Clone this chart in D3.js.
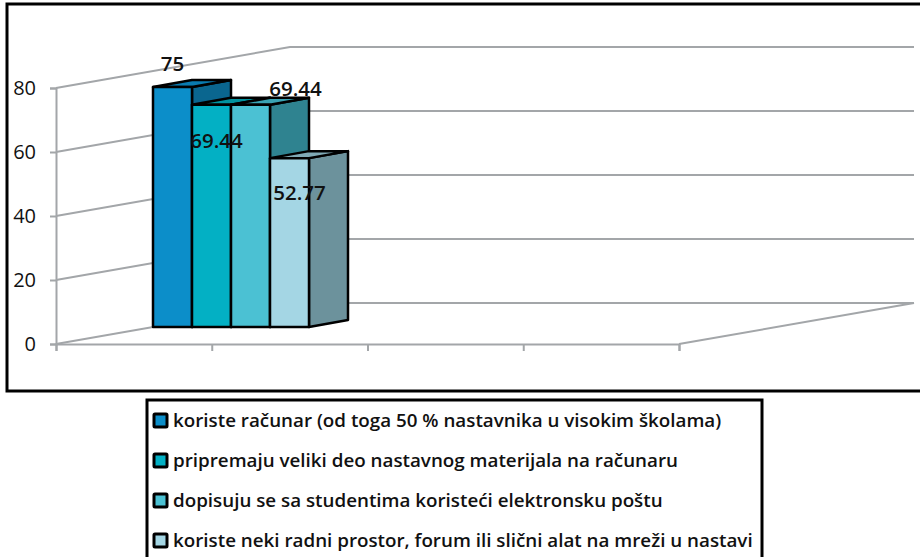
<!DOCTYPE html>
<html>
<head>
<meta charset="utf-8">
<script src="https://cdnjs.cloudflare.com/ajax/libs/d3/7.8.5/d3.min.js"></script>
<style>
  html, body { margin: 0; padding: 0; background: #fff; }
  svg { display: block; }
  text { font-family: "Open Sans", "Noto Sans", sans-serif; fill: #111; }
</style>
</head>
<body>
<div id="chart-area"></div>
<script>
const seriesNames = [
    'koriste računar (od toga 50 % nastavnika u visokim školama)',
    'pripremaju veliki deo nastavnog materijala na računaru',
    'dopisuju se sa studentima koristeći elektronsku poštu',
    'koriste neki radni prostor, forum ili slični alat na mreži u nastavi'
]
const seriesValues = [75, 69.44, 69.44, 52.77]
const yTicks = [0, 20, 40, 60, 80]
const categorySlots = [0, 1, 2, 3, 4]

const frontColors = ['#0c8ec9', '#03b0c4', '#4bc1d3', '#a4d6e4']
const topColors = ['#0a7bb0', '#02939f', '#3aa3b3', '#7fa9b5']
const sideColors = ['#0a668f', '#027f8d', '#2f8390', '#6c929c']

const width = 920
const height = 557

const svg = d3.select('#chart-area')
              .append('svg')
              .attr('width', width)
              .attr('height', height)

// Chart and legend frames
svg.append('rect')
   .attr('x', 7).attr('y', 4)
   .attr('width', 930).attr('height', 387)
   .attr('fill', '#fff')
   .attr('stroke', '#000')
   .attr('stroke-width', 3)

svg.append('rect')
   .attr('x', 147).attr('y', 400)
   .attr('width', 615).attr('height', 170)
   .attr('fill', '#fff')
   .attr('stroke', '#000')
   .attr('stroke-width', 3)

// Scales
const y = d3.scaleLinear().domain([0, 80]).range([344, 88])
const x = d3.scaleLinear().domain([0, 4]).range([56, 679])
const bars = d3.scaleBand().domain(d3.range(seriesValues.length)).range([153, 309])

// 3D offsets: the back wall and the depth of a bar
const wall = { dx: 234, dy: -41 }
const depth = { dx: 39, dy: -7 }
const barBase = 327
const barScale = y(0) - y(1)

const gridColor = '#a3a6a9'

// Walls and gridlines
const grid = svg.append('g').attr('fill', 'none').attr('stroke', gridColor)

grid.selectAll('.grid')
    .data(yTicks)
    .join('path')
    .attr('class', 'grid')
    .attr('stroke-width', 2)
    .attr('d', d => d3.line()([
        [x(0), y(d)],
        [x(0) + wall.dx, y(d) + wall.dy],
        [x(4) + wall.dx + 1, y(d) + wall.dy]
    ]))

grid.append('path')
    .attr('stroke-width', 2)
    .attr('d', d3.line()([
        [x(4), y(0)],
        [x(4) + wall.dx + 1, y(0) + wall.dy]
    ]))

// Axes
const yAxisCall = d3.axisLeft(y).tickValues(yTicks).tickSize(6).tickPadding(14)
const yAxisGroup = svg.append('g')
                      .attr('transform', 'translate(' + x(0) + ',0)')
                      .call(yAxisCall)

const xAxisCall = d3.axisBottom(x).tickValues(categorySlots).tickSize(7).tickFormat('')
const xAxisGroup = svg.append('g')
                      .attr('transform', 'translate(0,' + y(0) + ')')
                      .call(xAxisCall)

svg.selectAll('.domain, .tick line')
   .attr('stroke', gridColor)
   .attr('stroke-width', 2)

yAxisGroup.selectAll('text')
          .attr('font-size', '20px')
          .attr('font-family', '"Open Sans", sans-serif')
          .attr('fill', '#222')

// Bars, painted left to right so each one covers the side of the previous
const barData = seriesValues.map((v, i) => ({
    i: i,
    v: v,
    x0: bars(i),
    x1: bars(i) + bars.bandwidth(),
    top: barBase - v * barScale
}))

const bar = svg.selectAll('.bar')
               .data(barData)
               .join('g')
               .attr('class', 'bar')
               .attr('stroke', '#000')
               .attr('stroke-width', 2.5)
               .attr('stroke-linejoin', 'round')

bar.append('path')
   .attr('fill', d => sideColors[d.i])
   .attr('d', d => d3.line()([
       [d.x1, d.top],
       [d.x1 + depth.dx, d.top + depth.dy],
       [d.x1 + depth.dx, barBase + depth.dy],
       [d.x1, barBase]
   ]) + 'Z')

bar.append('path')
   .attr('fill', d => topColors[d.i])
   .attr('d', d => d3.line()([
       [d.x0, d.top],
       [d.x0 + depth.dx, d.top + depth.dy],
       [d.x1 + depth.dx, d.top + depth.dy],
       [d.x1, d.top]
   ]) + 'Z')

bar.append('rect')
   .attr('fill', d => frontColors[d.i])
   .attr('x', d => d.x0)
   .attr('y', d => d.top)
   .attr('width', bars.bandwidth())
   .attr('height', d => barBase - d.top)

// Data labels, offsets follow Excel's placement of each bar
const labelOffset = [
    { dx: 0, dy: -16 },
    { dx: 5, dy: 43 },
    { dx: 45, dy: -9 },
    { dx: 10, dy: 42 }
]

svg.selectAll('.value-label')
   .data(barData)
   .join('text')
   .attr('class', 'value-label')
   .attr('x', d => (d.x0 + d.x1) / 2 + labelOffset[d.i].dx)
   .attr('y', d => d.top + labelOffset[d.i].dy)
   .attr('text-anchor', 'middle')
   .attr('font-size', '20.5px')
   .attr('font-weight', 600)
   .text(d => d.v)

// Legend
const legendRow = d3.scalePoint()
                    .domain(d3.range(seriesNames.length))
                    .range([420, 540])

const legend = svg.selectAll('.legend-item')
                  .data(seriesNames)
                  .join('g')
                  .attr('class', 'legend-item')
                  .attr('transform', (d, i) => 'translate(154,' + legendRow(i) + ')')

legend.append('rect')
      .attr('x', 0).attr('y', -6)
      .attr('width', 13).attr('height', 13)
      .attr('rx', 1)
      .attr('fill', (d, i) => frontColors[i])
      .attr('stroke', '#000')
      .attr('stroke-width', 3)

legend.append('text')
      .attr('x', 19)
      .attr('y', 7)
      .attr('font-size', '18.8px')
      .attr('font-weight', 600)
      .text(d => d)
</script>
</body>
</html>
